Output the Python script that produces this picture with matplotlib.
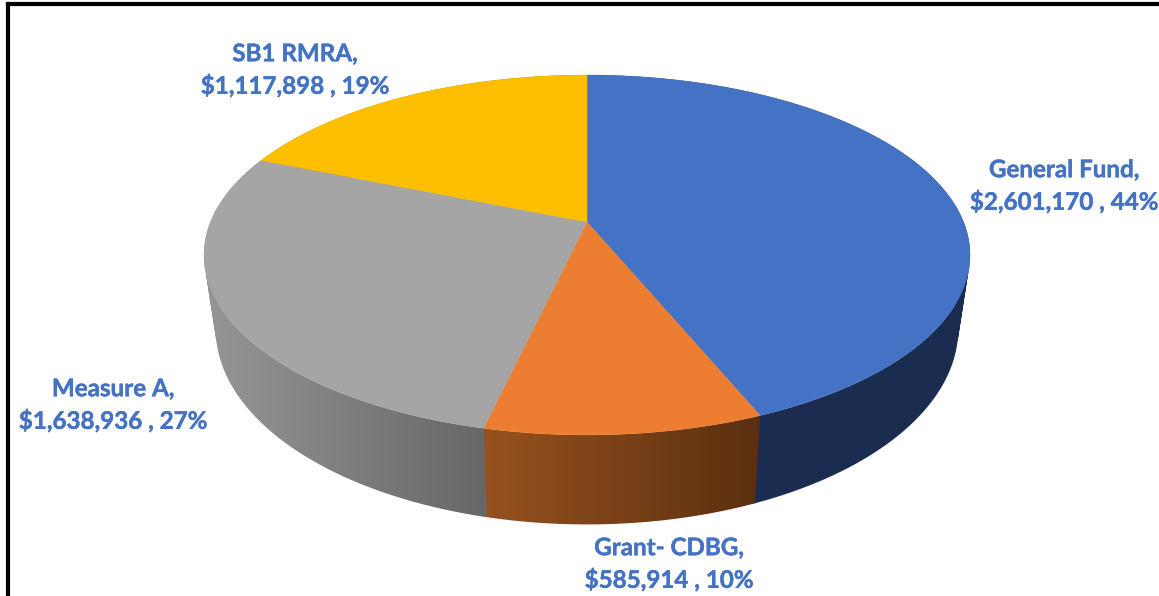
import numpy as np
import matplotlib
matplotlib.use('Agg')
import matplotlib.pyplot as plt
import matplotlib.patheffects as pe
from matplotlib.colors import LinearSegmentedColormap
from matplotlib.path import Path
from matplotlib.patches import PathPatch

# values in clockwise order from 12 o'clock
names = ['General Fund', 'Grant- CDBG', 'Measure A', 'SB1 RMRA']
amounts = [2601170, 585914, 1638936, 1117898]
amount_labels = ['$2,601,170', '$585,914', '$1,638,936', '$1,117,898']
percents = ['44%', '10%', '27%', '19%']

top_colors = ['#4472C4', '#ED7D31', '#A5A5A5', '#FDBF00']
side_light = ['#1A2D50', '#98521F', '#969696', '#B08600']
side_dark = ['#1A2D50', '#5A2F10', '#676767', '#7F6000']
label_xy = [(1064, 186), (669, 564), (113, 405), (295, 70)]

tilt = 0.1833
cx = 587


def rim(theta, apex_y, a, b):
    # perspective view of a circle, theta clockwise from the top
    u = np.sin(theta)
    v = np.cos(theta)
    w = 1 + tilt * v
    return cx + b * u / w, apex_y - a * v / w


def top_rim(theta):
    return rim(theta, 222, 173.9, 376.5)


def low_rim(theta):
    return rim(theta, 293, 189, 365)


fig = plt.figure(figsize=(11.59, 5.96), dpi=100)
ax = fig.add_axes([0, 0, 1, 1])
ax.set_xlim(0, 1159)
ax.set_ylim(596, 0)
ax.axis('off')

edges = np.concatenate([[0], np.cumsum(amounts)]) / np.sum(amounts) * 2 * np.pi

# side walls, gradient image clipped to the wall
for i in range(len(amounts)):
    # each wall runs a little under the next one so no white seam shows
    th = np.linspace(edges[i], edges[i + 1] + 0.006, 200)
    x1, y1 = top_rim(th)
    x2, y2 = low_rim(th)
    verts = []
    codes = []
    for k in range(len(th) - 1):
        quad = np.array([[x1[k], y1[k]], [x1[k + 1], y1[k + 1]],
                         [x2[k + 1], y2[k + 1]], [x2[k], y2[k]]])
        area = np.sum(quad[:, 0] * np.roll(quad[:, 1], -1) - np.roll(quad[:, 0], -1) * quad[:, 1])
        if area < 0:
            quad = quad[::-1]
        verts += list(quad) + [quad[0]]
        codes += [Path.MOVETO, Path.LINETO, Path.LINETO, Path.LINETO, Path.CLOSEPOLY]
    clip = PathPatch(Path(np.array(verts), codes), fc='none', ec='none', transform=ax.transData)
    ax.add_patch(clip)
    cmap = LinearSegmentedColormap.from_list('side', [side_light[i], side_dark[i]])
    left = min(x1.min(), x2.min())
    right = max(x1.max(), x2.max())
    im = ax.imshow(np.linspace(0, 1, 256).reshape(1, -1), cmap=cmap, aspect='auto',
                   extent=[left, right, 596, 0], zorder=2 + i * 0.1, interpolation='bilinear')
    im.set_clip_path(clip)

ax.set_xlim(0, 1159)
ax.set_ylim(596, 0)

# top face
for i in range(len(amounts)):
    th = np.linspace(edges[i], edges[i + 1], 300)
    x, y = top_rim(th)
    ax.fill(np.concatenate([[cx], x]), np.concatenate([[222], y]),
            color=top_colors[i], lw=0.3, zorder=3)

for i in range(len(names)):
    ax.text(label_xy[i][0], label_xy[i][1],
            names[i] + ',\n' + amount_labels[i] + ' , ' + percents[i],
            color='#4472C4', fontsize=17.4, fontweight='bold', family='Lato',
            ha='center', va='center', linespacing=1.39, zorder=5,
            path_effects=[pe.withStroke(linewidth=0.3, foreground='#4472C4')])

# frame
ax.plot([8, 8], [596, 4], color='black', lw=3.0, solid_capstyle='projecting', zorder=6)
ax.plot([8, 1159], [4, 4], color='black', lw=3.0, solid_capstyle='projecting', zorder=6)

fig.savefig('out.png', dpi=100)
